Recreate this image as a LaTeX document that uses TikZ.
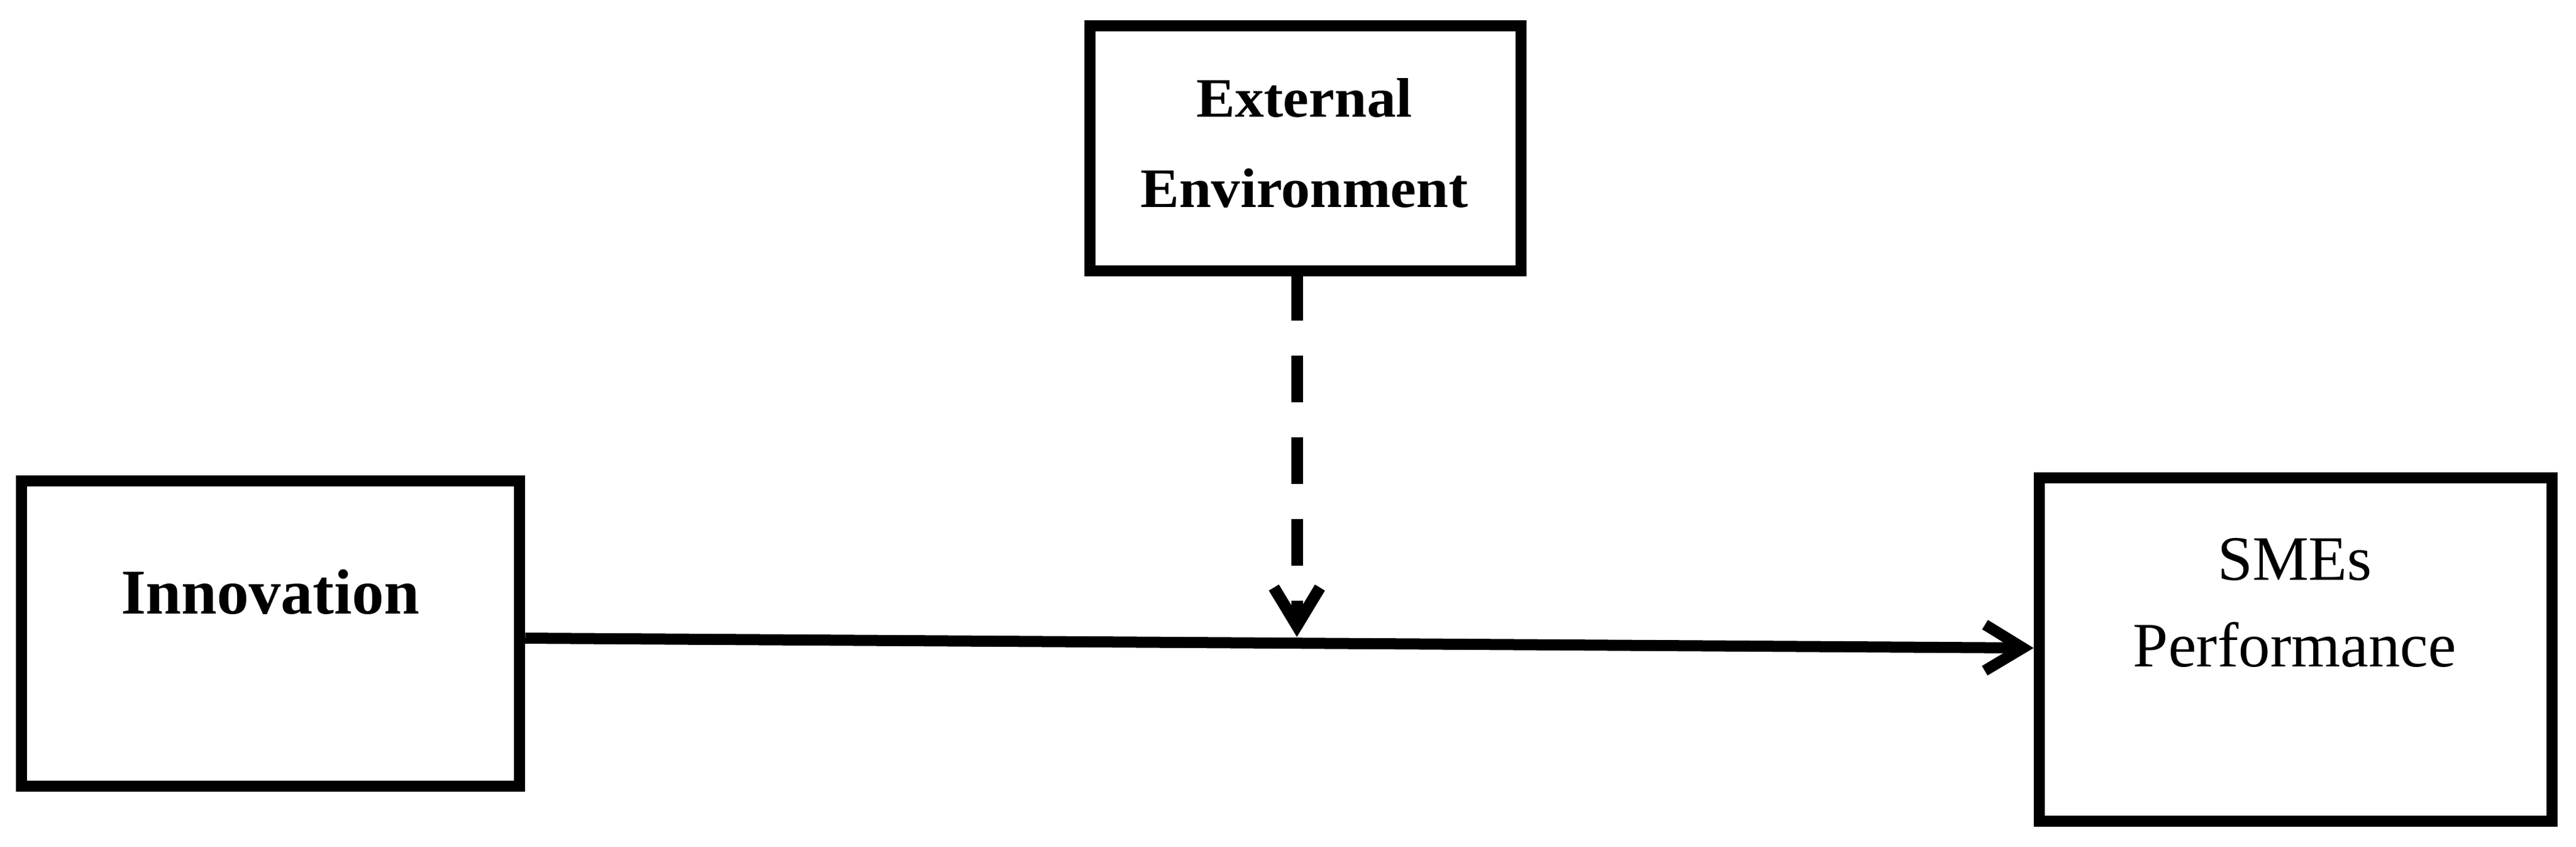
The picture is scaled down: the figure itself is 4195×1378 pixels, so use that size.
\documentclass[tikz,border=0pt]{standalone}
\usepackage{fontspec}
\setmainfont{Liberation Serif}
\newfontfamily\extfont[FakeStretch=1.04]{Liberation Serif}
\usetikzlibrary{arrows.meta,calc}
\begin{document}
\begin{tikzpicture}[x=0.01cm,y=-0.01cm,
  box/.style={draw=black,line width=0.18cm,inner sep=0pt,fill=white},
  lbl/.style={inner sep=0pt,anchor=base,font=\fontsize{29.3pt}{35pt}\selectfont},
  lblb/.style={inner sep=0pt,anchor=base,font=\fontsize{29.6pt}{35pt}\selectfont\bfseries},
  lble/.style={inner sep=0pt,anchor=base,font=\fontsize{25.8pt}{31pt}\selectfont\extfont\bfseries},
  link/.style={draw=black,line width=0.18cm,-{Straight Barb[length=0.62cm,width=0.75cm]}},
  dlink/.style={link,line width=0.19cm,dash pattern=on 0.76cm off 0.57cm}]
\useasboundingbox (0,0) rectangle (4195,1378);
\fill[white] (0,0) rectangle (4195,1378);
% boxes
\node[box,minimum width=8.11cm,minimum height=4.97cm] (inn) at (440.5,1031.5) {};
\node[box,minimum width=8.35cm,minimum height=5.59cm] (sme) at (3738.5,1057.5) {};
\node[box,minimum width=7.02cm,minimum height=3.99cm] (ext) at (2126,241.5) {};
% texts
\node[lblb] (innt) at (440,999) {Innovation};
\node[lbl] (smet1) at (3737,944) {SMEs};
\node[lbl] (smet2) at (3737,1085) {Performance};
\node[lble] (extt1) at (2124,190) {External};
\node[lble] (extt2) at (2124,337) {Environment};
% connectors
\coordinate (hit) at (2112,1037);
\draw[link] ($(inn.east)+(0,7.5)$) -- ($(sme.west)+(0,-2.5)$);
\draw[dlink] ($(ext.south)+(-14,-4)$) -- (hit);
\end{tikzpicture}
\end{document}
